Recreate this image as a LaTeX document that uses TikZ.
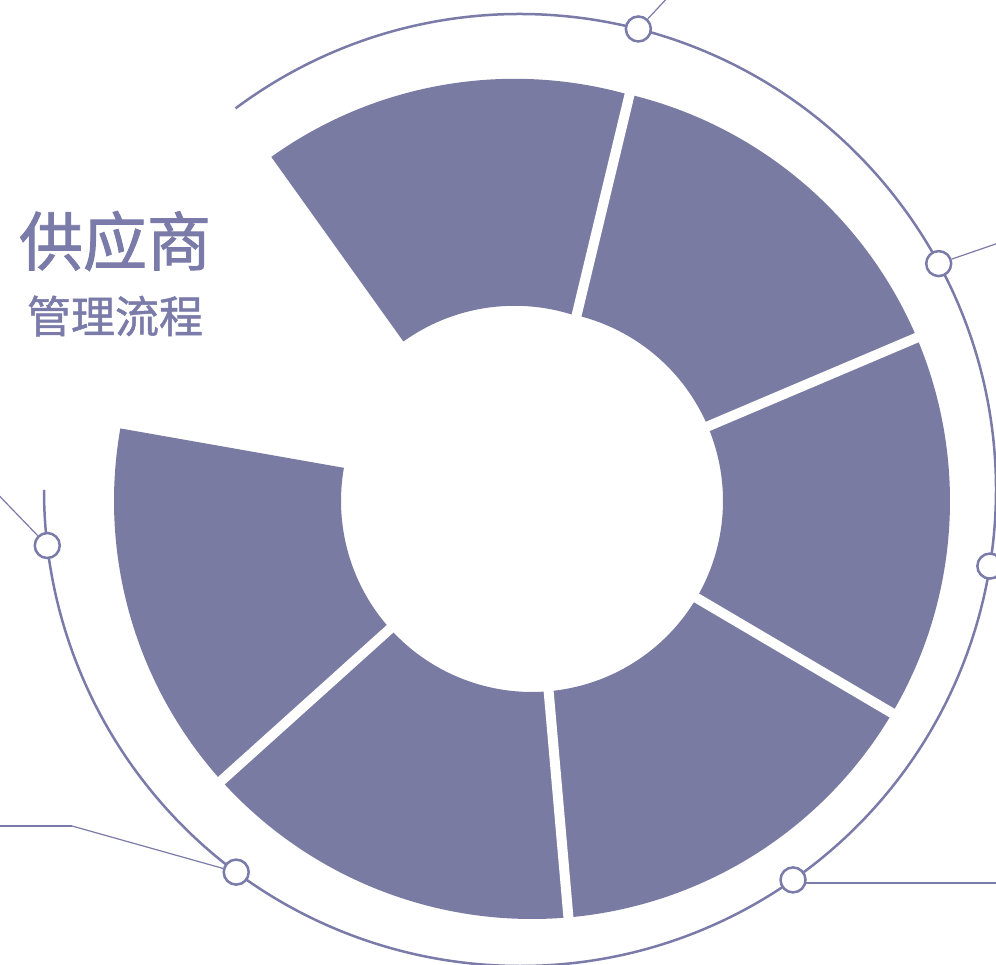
\documentclass[tikz,border=0pt]{standalone}
\usepackage{fontspec}
\newfontfamily\cjk[FakeBold=1.4]{Noto Sans CJK SC}
\newfontfamily\cjksub[FakeBold=1.1]{Noto Sans CJK SC}
\usetikzlibrary{calc}
\definecolor{flowfill}{RGB}{122,123,163}
\definecolor{flowline}{RGB}{122,123,168}
\def\segment(#1)(#2:#3:#4:#5){\fill[flowfill] ($(#1)+(#2:#5)$) arc (#2:#3:#5) -- ($(#1)+(#3:#4)$) arc (#3:#2:#4) -- cycle;}
\def\gap(#1)(#2){\draw[line width=5pt, white] ($(#1)+(#2:170)$) -- ($(#1)+(#2:440)$);}

\begin{document}
\begin{tikzpicture}[x=0.5pt, y=0.5pt,
	dot/.style={circle, draw=flowline, line width=1.25pt, fill=white, minimum size=12.5pt, inner sep=0pt},
	leader/.style={flowline, line width=0.6pt},
	ringline/.style={flowline, line width=1.25pt}]
	%%%%% START %%%%%
	
	\useasboundingbox (0,0) rectangle (996,964);
	\clip (0,0) rectangle (996,964);
	\coordinate (C) at (532,463);
	\coordinate (Cs) at (514.6,467.2);
	\coordinate (R) at (520,474);
	
	% donut, first piece pulled out a little
	\begin{scope}
		\clip (C) -- ($(C)+(76.5:1000)$) -- ($(C)+(150:1000)$) -- cycle;
		\segment(Cs)(125.6:60:191:418)
	\end{scope}
	\segment(C)(76.5:23:191:418)
	\segment(C)(23:-30.5:191:418)
	\segment(C)(-30.5:-85:191:418)
	\segment(C)(-85:-138:191:418)
	\segment(C)(-138:-190:191:418)
	
	\gap(C)(76.5)
	\gap(C)(23)
	\gap(C)(-30.5)
	\gap(C)(-85)
	\gap(C)(-138)
	
	% outer ring
	\draw[ringline] ($(R)+(126.7:476)$) arc (126.7:-180:476);
	
	\node[dot] (d1) at ($(R)+(75.6:476)$) {};
	\node[dot] (d2) at ($(R)+(28.4:476)$) {};
	\node[dot] (d3) at ($(R)+(-9.2:476)$) {};
	\node[dot] (d4) at ($(R)+(-55:476)$) {};
	\node[dot] (d5) at ($(R)+(-126.6:476)$) {};
	\node[dot] (d6) at ($(R)+(-173.3:476)$) {};
	
	\coordinate (k5) at (72,138);
	
	\draw[leader] (d1.47) -- ++(47:60);
	\draw[leader] (d2.19) -- ++(19:90);
	\draw[flowline, line width=1pt] (d4.-15) -- ++(240,0);
	\draw[leader] (d5) -- (k5);
	\draw[flowline, line width=1pt] (k5) -- ++(-90,0);
	\draw[leader] (d6.134) -- ++(134:80);
	
	% title
	\node[text=flowline, font=\cjk\fontsize{32}{36}\selectfont] (title) at (115,723) {供应商};
	\node[text=flowline, font=\cjksub\fontsize{22}{26}\selectfont] (subtitle) at (115,648) {管理流程};
	
	%%%%% END %%%%%
\end{tikzpicture}
\end{document}
